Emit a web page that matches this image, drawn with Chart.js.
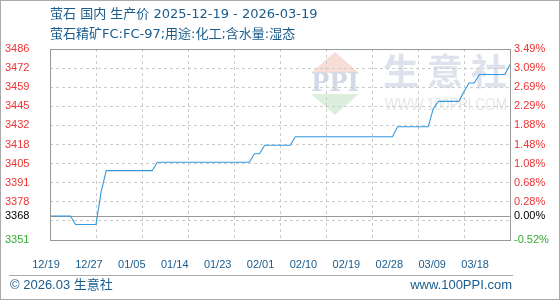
<!DOCTYPE html>
<html>
<head>
<meta charset="utf-8">
<title>萤石 国内 生产价</title>
<script src="https://cdn.jsdelivr.net/npm/chart.js@4.4.1/dist/chart.umd.min.js"></script>
<style>
  html, body { margin: 0; padding: 0; background: #fff; }
  #wrap { position: relative; width: 560px; height: 300px; overflow: hidden; }
  #frame { position: absolute; left: 0; top: 0; width: 560px; height: 300px; box-sizing: border-box; border: 1px solid #aaa; pointer-events: none; }
  .head { position: absolute; left: 50px; font: 13px/16px "DejaVu Sans", "Noto Sans CJK SC", sans-serif; color: #1a5c8e; white-space: nowrap; }
  .foot { position: absolute; top: 277px; font: 13px/16px "Liberation Sans", "Noto Sans CJK SC", sans-serif; color: #1a5c8e; white-space: nowrap; }
  #rule { position: absolute; left: 9px; top: 275px; width: 504px; height: 1px; background: #aaa; }
  canvas { position: absolute; left: 0; top: 0; }
</style>
</head>
<body>
<div id="wrap">
  <canvas id="chart" width="560" height="300"></canvas>
  <div class="head" style="top:6px">萤石 国内 生产价 2025-12-19 - 2026-03-19</div>
  <div class="head" style="top:26px">萤石精矿FC:FC-97;用途:化工;含水量:湿态</div>
  <div id="rule"></div>
  <div class="foot" style="left:10px">© 2026.03 生意社</div>
  <div class="foot" style="right:48px">www.100PPI.com</div>
  <div id="frame"></div>
</div>
<script>
// daily price, 2025-12-19 .. 2026-03-19
const prices = [
  3368, 3368, 3368, 3368, 3368, 3362, 3362, 3362, 3362, 3362,
  3385, 3400, 3400, 3400, 3400, 3400, 3400, 3400, 3400, 3400,
  3400, 3406, 3406, 3406, 3406, 3406, 3406, 3406, 3406, 3406,
  3406, 3406, 3406, 3406, 3406, 3406, 3406, 3406, 3406, 3406,
  3412, 3412, 3418, 3418, 3418, 3418, 3418, 3418, 3424, 3424,
  3424, 3424, 3424, 3424, 3424, 3424, 3424, 3424, 3424, 3424,
  3424, 3424, 3424, 3424, 3424, 3424, 3424, 3424, 3431, 3431,
  3431, 3431, 3431, 3431, 3431, 3444, 3449, 3449, 3449, 3449,
  3449, 3456, 3462, 3462, 3468, 3468, 3468, 3468, 3468, 3468,
  3475
];
const xTickLabels = ["12/19", "12/27", "01/05", "01/14", "01/23", "02/01", "02/10", "02/19", "02/28", "03/09", "03/18"];
const baseValue = 3368;
const yTickValues = [3351, 3364.5, 3368, 3378, 3391.5, 3405, 3418.5, 3432, 3445.5, 3459, 3472.5, 3486];
const yTickLabels = ["3351", "", "3368", "3378", "3391", "3405", "3418", "3432", "3445", "3459", "3472", "3486"];
const pctTickLabels = ["-0.52%", "", "0.00%", "0.28%", "0.68%", "1.08%", "1.48%", "1.88%", "2.29%", "2.69%", "3.09%", "3.49%"];
const gridEvery = 9;

const dates = prices.map((_, i) => {
  const d = new Date(2025, 11, 19 + i);
  return String(d.getMonth() + 1).padStart(2, "0") + "/" + String(d.getDate()).padStart(2, "0");
});

const tickFont = { family: "Liberation Sans", size: 11 };
const tickColor = ctx => ctx.tick.value > baseValue ? "#ee3333" : (ctx.tick.value < baseValue ? "#33aa33" : "#000");

const framePlugin = {
  id: "frame",
  beforeDraw(chart) {
    const { ctx, chartArea: a } = chart;
    const cx = a.right - 175, top = a.top + 3;
    ctx.save();
    // ppi logo
    ctx.fillStyle = "#f8dcd6";
    ctx.beginPath(); ctx.moveTo(cx, top); ctx.lineTo(cx - 24, top + 21); ctx.lineTo(cx + 24, top + 21); ctx.fill();
    ctx.fillStyle = "#dcefdc";
    ctx.beginPath(); ctx.moveTo(cx - 24, top + 42); ctx.lineTo(cx + 24, top + 42); ctx.lineTo(cx, top + 63); ctx.fill();
    ctx.fillStyle = "#d3d9e6";
    ctx.font = "bold 26px 'DejaVu Serif'";
    ctx.textAlign = "center"; ctx.textBaseline = "middle";
    ctx.fillText("PPI", cx, top + 32, 48);
    // site name
    ctx.fillStyle = "#dde2ec";
    ctx.font = "bold 36px 'Noto Sans CJK SC'";
    ["生", "意", "社"].forEach((c, i) => ctx.fillText(c, a.right - 109 + i * 44, top + 19));
    ctx.fillStyle = "#e6e6e6";
    ctx.font = "16px 'Liberation Sans'";
    ctx.textAlign = "left";
    ctx.fillText("WWW.100PPI.COM", a.right - 125, top + 54, 122);
    ctx.restore();
  },
  beforeDatasetsDraw(chart) {
    const { ctx, chartArea: a, scales } = chart;
    const y = Math.round(scales.y.getPixelForValue(baseValue)) + 0.5;
    ctx.save();
    ctx.strokeStyle = "#999";
    ctx.lineWidth = 1;
    ctx.beginPath(); ctx.moveTo(a.left, y); ctx.lineTo(a.right, y); ctx.stroke();
    ctx.restore();
  },
  afterDatasetsDraw(chart) {
    const { ctx, chartArea: a } = chart;
    ctx.save();
    ctx.strokeStyle = "#999";
    ctx.lineWidth = 1;
    ctx.strokeRect(Math.round(a.left) + 0.5, Math.round(a.top) + 0.5, Math.round(a.right - a.left), Math.round(a.bottom - a.top));
    ctx.restore();
  }
};

new Chart(document.getElementById("chart"), {
  type: "line",
  data: {
    labels: dates,
    datasets: [{
      data: prices,
      borderColor: "#3399dd",
      borderWidth: 1.1,
      pointRadius: 0,
      tension: 0,
      fill: false
    }]
  },
  options: {
    responsive: false,
    animation: false,
    layout: { padding: { left: 5, top: 49, right: 0, bottom: 0 } },
    plugins: { legend: { display: false }, tooltip: { enabled: false } },
    scales: {
      x: {
        type: "category",
        grid: { color: "#cccccc", drawTicks: false },
        border: { display: false, dash: [3, 3] },
        ticks: { display: false, autoSkip: false },
        afterBuildTicks: axis => { axis.ticks = axis.ticks.filter(t => t.value % gridEvery === 0); },
        afterFit: axis => { axis.height = 0; }
      },
      xLab: {
        type: "linear",
        position: "bottom",
        min: 0,
        max: 10.72, // labels run a little tighter than the gridlines, as in the source
        grid: { display: false },
        border: { display: false },
        afterBuildTicks: axis => { axis.ticks = xTickLabels.map((_, i) => ({ value: i })); },
        ticks: {
          autoSkip: false,
          maxRotation: 0,
          padding: 10,
          labelOffset: -4,
          color: "#1a5c8e",
          font: tickFont,
          callback: (v, i) => xTickLabels[i]
        },
        afterFit: axis => { axis.height = 60; }
      },
      y: {
        position: "left",
        min: yTickValues[0],
        max: yTickValues[yTickValues.length - 1],
        grid: { color: ctx => ctx.tick && ctx.tick.value === baseValue ? "rgba(0,0,0,0)" : "#cccccc", drawTicks: false },
        border: { display: false, dash: [3, 3] },
        afterBuildTicks: axis => { axis.ticks = yTickValues.map(v => ({ value: v })); },
        ticks: {
          autoSkip: false,
          crossAlign: "far",
          color: tickColor,
          font: tickFont,
          callback: (v, i) => yTickLabels[i]
        },
        afterFit: axis => { axis.width = 45; }
      },
      y2: {
        position: "right",
        min: yTickValues[0],
        max: yTickValues[yTickValues.length - 1],
        grid: { drawOnChartArea: false, drawTicks: false },
        border: { display: false },
        afterBuildTicks: axis => { axis.ticks = yTickValues.map(v => ({ value: v })); },
        ticks: {
          autoSkip: false,
          padding: 4,
          color: tickColor,
          font: tickFont,
          callback: (v, i) => pctTickLabels[i]
        },
        afterFit: axis => { axis.width = 50; }
      }
    }
  },
  plugins: [framePlugin]
});
</script>
</body>
</html>
